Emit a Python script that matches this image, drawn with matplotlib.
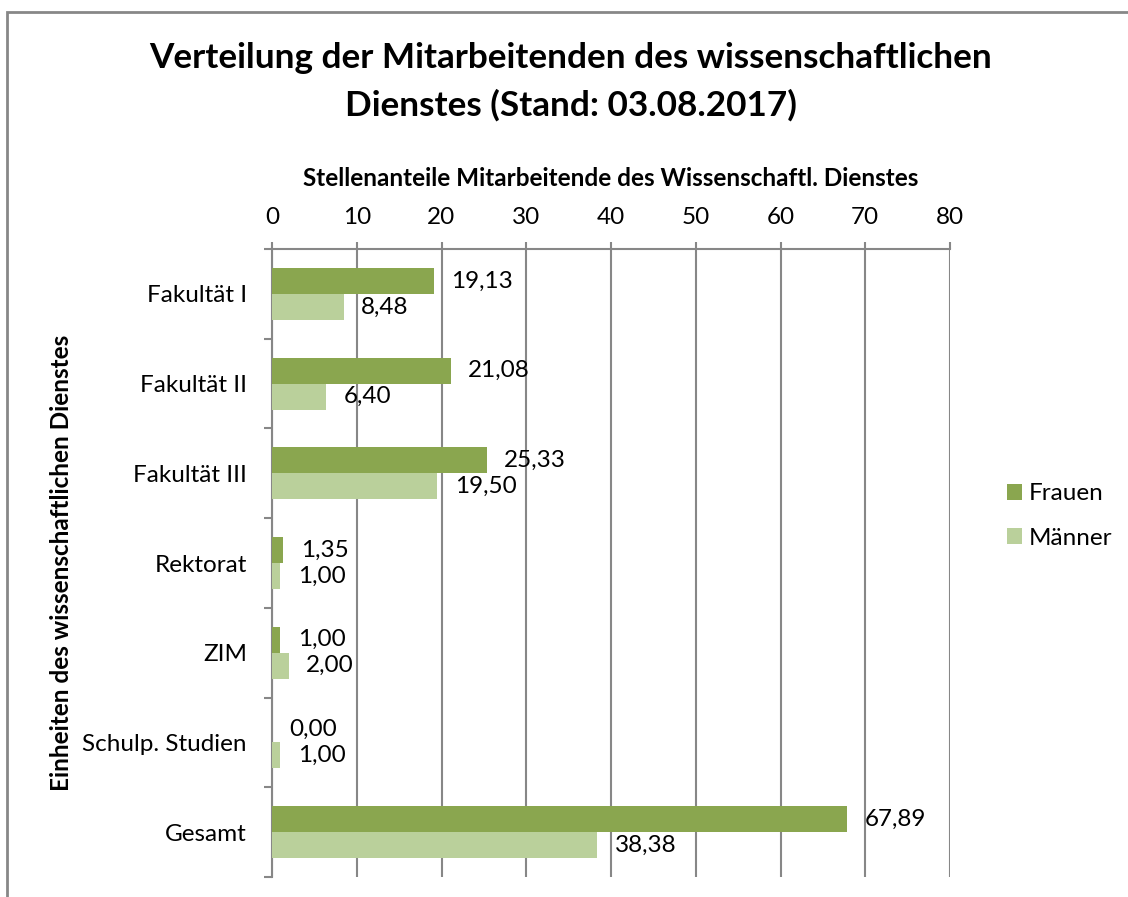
import matplotlib
matplotlib.use("Agg")
import matplotlib.pyplot as plt
from matplotlib.patches import Rectangle
import numpy as np

plt.rcParams['font.family'] = ['Lato', 'DejaVu Sans']

categories = ["Fakultät I", "Fakultät II", "Fakultät III", "Rektorat", "ZIM",
              "Schulp. Studien", "Gesamt"]
frauen = [19.13, 21.08, 25.33, 1.35, 1.00, 0.00, 67.89]
maenner = [8.48, 6.40, 19.50, 1.00, 2.00, 1.00, 38.38]
x_ticks = [0, 10, 20, 30, 40, 50, 60, 70, 80]

col_f = "#8aa64f"
col_m = "#bad09b"
grey = "#878787"
fs = 17.5

W, H = 1128, 897
fig = plt.figure(figsize=(W / 100, H / 100), dpi=100)
ax = fig.add_axes([272 / W, 1 - 877 / H, (950 - 272) / W, (877 - 249) / H])

y = np.arange(len(categories))
bh = 0.29
ax.barh(y - bh / 2, frauen, height=bh, color=col_f, label="Frauen", zorder=3)
ax.barh(y + bh / 2, maenner, height=bh, color=col_m, label="Männer", zorder=3)

def fmt(v):
    return f"{v:.2f}".replace(".", ",")

for yi, v in zip(y, frauen):
    ax.annotate(fmt(v), xy=(v, yi - bh / 2), xytext=(12.5, 0), textcoords="offset points",
                va="center", ha="left", fontsize=fs, zorder=4)
for yi, v in zip(y, maenner):
    ax.annotate(fmt(v), xy=(v, yi + bh / 2), xytext=(12.5, 0), textcoords="offset points",
                va="center", ha="left", fontsize=fs, zorder=4)

ax.set_xlim(0, 80)
ax.set_ylim(len(categories) - 0.5, -0.5)
ax.xaxis.tick_top()
ax.set_xticks(x_ticks)
ax.tick_params(axis="x", length=5, width=1.5, color=grey, labelsize=fs, pad=10)
ax.xaxis.grid(True, color=grey, lw=1.5, zorder=0)

ax.set_yticks(y)
ax.set_yticklabels(categories)
ax.set_yticks(np.arange(len(categories) + 1) - 0.5, minor=True)
ax.tick_params(axis="y", which="major", length=0, labelsize=fs, pad=18)
ax.tick_params(axis="y", which="minor", length=6, width=1.5, color=grey)

for s in ["right", "bottom"]:
    ax.spines[s].set_visible(False)
for s in ["top", "left"]:
    ax.spines[s].set_color(grey)
    ax.spines[s].set_linewidth(1.5)

fig.text(571 / W, 1 - 68 / H, "Verteilung der Mitarbeitenden des wissenschaftlichen",
         ha="center", va="baseline", fontsize=25.3, fontweight="bold")
fig.text(571 / W, 1 - 116 / H, "Dienstes (Stand: 03.08.2017)",
         ha="center", va="baseline", fontsize=25.3, fontweight="bold")
fig.text(611 / W, 1 - 186 / H, "Stellenanteile Mitarbeitende des Wissenschaftl. Dienstes",
         ha="center", va="baseline", fontsize=fs, fontweight="bold")
fig.text(62 / W, 1 - 563 / H, "Einheiten des wissenschaftlichen Dienstes",
         ha="center", va="center", rotation=90, fontsize=fs, fontweight="bold")

fig.legend(loc="center left", bbox_to_anchor=(985 / W, 1 - 516 / H), frameon=False,
           fontsize=fs, handlelength=0.62, handleheight=0.62, handletextpad=0.3,
           labelspacing=0.95)

fig.patches.append(Rectangle((7 / W, -0.1), 1.2, 1.1 - 12 / H, transform=fig.transFigure,
                             fill=False, edgecolor=grey, lw=2))

fig.savefig("out.png", dpi=100)
